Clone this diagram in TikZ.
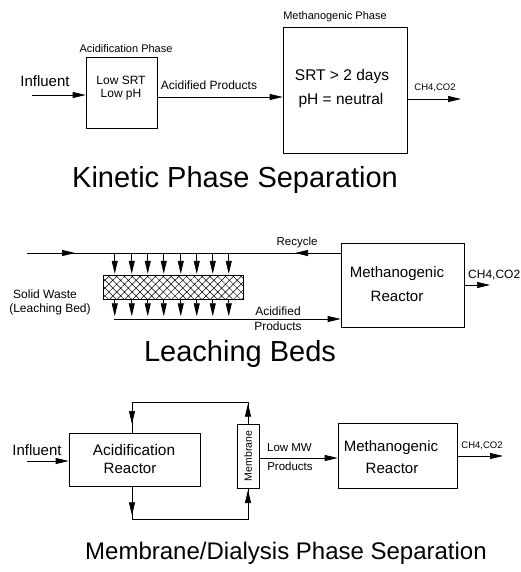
\documentclass[tikz,border=0pt]{standalone}
\usepackage{fontspec}
\setmainfont{Liberation Sans}
\usetikzlibrary{arrows.meta,patterns.meta}
\tikzset{
  fs/.style={font=\fontsize{#1}{#1}\selectfont},
  box/.style={draw, line width=0.7pt, inner sep=0pt},
  lbl/.style={inner sep=0pt, anchor=center},
  ln/.style={line width=0.7pt},
  arr/.style={line width=0.7pt, -{Triangle[length=13pt,width=6pt]}},
}
\begin{document}
\begin{tikzpicture}[x=1pt,y=-1pt]
\useasboundingbox (0,0) rectangle (521,572);
\fill[white] (0,0) rectangle (521,572);

% ---------- Section 1: Kinetic phase separation ----------
\node[box, minimum width=71pt, minimum height=71pt] (acid1) at (121.5,92.5) {};
\node[box, minimum width=124pt, minimum height=126pt] (meth1) at (345,90) {};
\node[lbl, fs=11] (ap) at (126,49) {Acidification Phase};
\node[lbl, fs=11] (mp) at (335,17) {Methanogenic Phase};
\node[lbl, fs=15] (inf1) at (45,81) {Influent};
\node[lbl, fs=12] (lsrt) at (121,80) {Low SRT};
\node[lbl, fs=12] (lph) at (121,95) {Low pH};
\node[lbl, fs=12] (acp) at (209,85) {Acidified Products};
\node[lbl, fs=15.5] (srt) at (342,76) {SRT > 2 days};
\node[lbl, fs=15.5] (phn) at (341,100) {pH = neutral};
\node[lbl, fs=9.5] (ch1) at (435,88) {CH4,CO2};
\node[lbl, fs=29] (t1) at (235,180) {Kinetic Phase Separation};
\coordinate (i1) at (32,95);
\coordinate (y97) at (0,97);
\coordinate (o1) at (461,99);
\draw[arr] (i1) -- (acid1.west |- i1);
\draw[arr] (acid1.east |- y97) -- (meth1.west |- y97);
\draw[arr] (meth1.east |- o1) -- (o1);

% ---------- Section 2: Leaching beds ----------
\node[box, minimum width=123pt, minimum height=84pt] (meth2) at (402.5,285) {};
\node[lbl, fs=15] (mr2a) at (397,274) {Methanogenic};
\node[lbl, fs=15] (mr2b) at (397,296) {Reactor};
\node[draw, line width=0.7pt, inner sep=0pt, minimum width=140pt, minimum height=24pt,
      pattern={Hatch[angle=45,distance=5.5pt,line width=0.5pt]}] (bed) at (173,287) {};
\coordinate (r0) at (27,253);
\coordinate (ra) at (75,253);
\coordinate (rb) at (295,253);
\draw[ln] (r0) -- (meth2.west |- r0);
\draw[arr] (r0) -- (ra);
\draw[arr] (meth2.west |- r0) -- (rb);
\foreach \d in {12,29,45,61,78,94,110,126} {
  \draw[arr] ([xshift=\d pt, yshift=22pt]bed.north west) -- ([xshift=\d pt, yshift=1pt]bed.north west);
  \draw[arr] ([xshift=\d pt]bed.south west) -- ([xshift=\d pt, yshift=-17pt]bed.south west);
}
\coordinate (b0) at (114,319);
\draw[arr] (b0) -- (meth2.west |- b0);
\coordinate (o2) at (490,285);
\draw[arr] (meth2.east |- o2) -- (o2);
\node[lbl, fs=11.5] (rec) at (297,243) {Recycle};
\node[lbl, fs=12, anchor=west] (ch2) at (468,275) {CH4,CO2};
\node[lbl, fs=12] (sw) at (45,294) {Solid Waste};
\node[lbl, fs=12] (lb) at (50,309) {(Leaching Bed)};
\node[lbl, fs=12] (ac2a) at (278,311) {Acidified};
\node[lbl, fs=12] (ac2b) at (278,326) {Products};
\node[lbl, fs=29] (t2) at (240,354) {Leaching Beds};

% ---------- Section 3: Membrane / dialysis ----------
\node[box, minimum width=131pt, minimum height=53pt] (acid3) at (134.5,459.5) {};
\node[box, minimum width=22pt, minimum height=64pt] (mem) at (248,456) {};
\node[lbl, fs=10.5, rotate=90] (memt) at (mem.center) {Membrane};
\node[box, minimum width=119pt, minimum height=65pt] (meth3) at (397.5,455.5) {};
\node[lbl, fs=15] (inf3) at (37,450) {Influent};
\node[lbl, fs=15.4] (ar3a) at (134,450) {Acidification};
\node[lbl, fs=15] (ar3b) at (130,468) {Reactor};
\node[lbl, fs=11.5] (lmw) at (289.5,448) {Low MW};
\node[lbl, fs=11.5] (lmp) at (290,466) {Products};
\node[lbl, fs=15] (mr3a) at (391,448) {Methanogenic};
\node[lbl, fs=15] (mr3b) at (392,468) {Reactor};
\node[lbl, fs=9.5] (ch3) at (482,446) {CH4,CO2};
\node[lbl, fs=24] (t3) at (286,553) {Membrane/Dialysis Phase Separation};
\coordinate (i3) at (27,461);
\draw[arr] (i3) -- (acid3.west |- i3);
\coordinate (tl) at (132,402);
\coordinate (tr) at (248,402);
\draw[ln] (mem.north) -- (tr) -- (tl) -- (tl |- acid3.north);
\draw[arr] (mem.north) -- ++(0,-20);
\draw[arr] (tl) -- ++(0,22);
\coordinate (bl) at (132,519);
\coordinate (br) at (248,519);
\draw[ln] (bl |- acid3.south) -- (bl) -- (br) -- (mem.south);
\draw[arr] (bl |- acid3.south) -- ++(0,29);
\draw[arr] (br) -- ++(0,-29);
\coordinate (y458) at (0,458);
\draw[arr] (mem.east |- y458) -- (meth3.west |- y458);
\coordinate (o3) at (503,456);
\draw[arr] (meth3.east |- o3) -- (o3);
\end{tikzpicture}
\end{document}
